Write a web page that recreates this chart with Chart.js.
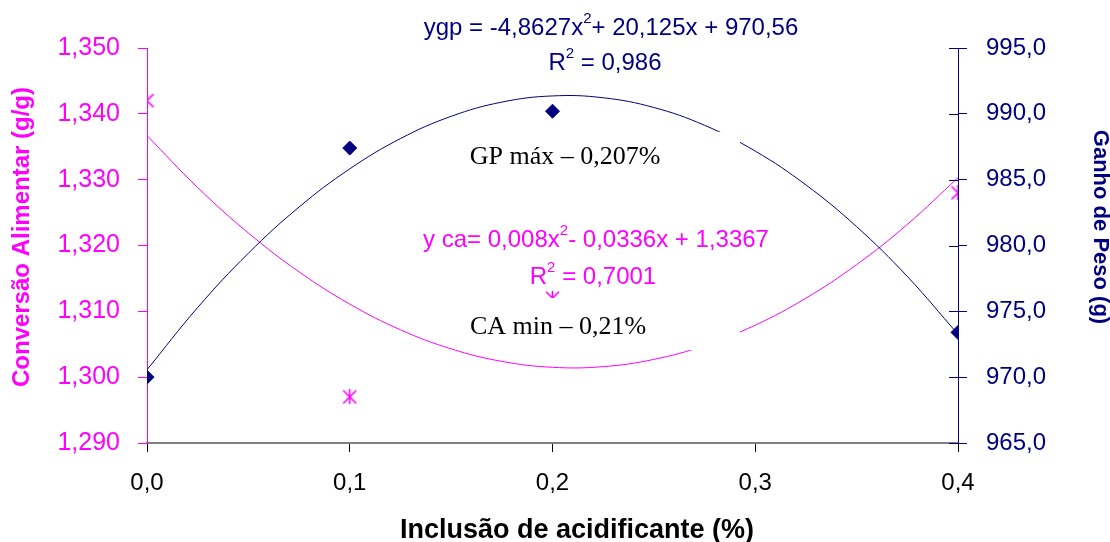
<!DOCTYPE html>
<html>
<head>
<meta charset="utf-8">
<script src="https://cdn.jsdelivr.net/npm/chart.js@4/dist/chart.umd.min.js"></script>
<style>
  html, body { margin: 0; padding: 0; background: #fff; }
  #wrap { width: 1110px; height: 542px; }
</style>
</head>
<body>
<div id="wrap"><canvas id="chart" width="1110" height="542"></canvas></div>
<script>
// observed points
const doses = [0, 0.1, 0.2, 0.4];
const caValues = [1.342, 1.297, 1.312, 1.328];
const gpValues = [970.0, 987.4, 990.2, 973.4];

// trend curves
const trendX = [0, 0.025, 0.05, 0.075, 0.1, 0.125, 0.15, 0.175, 0.2, 0.225, 0.25, 0.275, 0.3, 0.325, 0.35, 0.375, 0.4];
const caTrend = [1.3367, 1.3288, 1.3219, 1.3160, 1.3111, 1.3072, 1.3043, 1.3024, 1.3015, 1.3016, 1.3027, 1.3048, 1.3079, 1.3120, 1.3171, 1.3232, 1.3303];
const gpTrend = [970.56, 975.29, 979.41, 982.92, 985.82, 988.12, 989.81, 990.89, 991.36, 991.22, 990.48, 989.13, 987.17, 984.60, 981.43, 977.65, 973.26];

const MAGENTA = '#ff00ff';
const NAVY = '#000080';
const SANS = '"Liberation Sans", Arial, sans-serif';
const SERIF = '"Liberation Serif", "Times New Roman", serif';

function zip(xs, ys) { return xs.map((x, i) => ({ x: x, y: ys[i] })); }

// excel style asterisk marker
function asterisk(size, color) {
    const c = document.createElement('canvas');
    c.width = size; c.height = size;
    const g = c.getContext('2d');
    g.strokeStyle = color;
    g.lineWidth = 1.6;
    const m = size / 2;
    g.beginPath();
    g.moveTo(1, 1); g.lineTo(size - 1, size - 1);
    g.moveTo(size - 1, 1); g.lineTo(1, size - 1);
    g.moveTo(m, 0); g.lineTo(m, size);
    g.stroke();
    return c;
}

// text pieces: [text, isSuperscript]
function drawPieces(ctx, pieces, cx, cy, size, color) {
    ctx.save();
    ctx.fillStyle = color;
    ctx.textBaseline = 'middle';
    ctx.textAlign = 'left';
    let total = 0;
    pieces.forEach(p => {
        ctx.font = (p[1] ? Math.round(size * 0.62) : size) + 'px ' + SANS;
        total += ctx.measureText(p[0]).width;
    });
    let x = cx - total / 2;
    pieces.forEach(p => {
        const s = p[1] ? Math.round(size * 0.62) : size;
        ctx.font = s + 'px ' + SANS;
        ctx.fillText(p[0], x, p[1] ? cy - size * 0.38 : cy);
        x += ctx.measureText(p[0]).width;
    });
    ctx.restore();
}

function rotatedText(ctx, text, x, y, angle, font, color) {
    ctx.save();
    ctx.translate(x, y);
    ctx.rotate(angle);
    ctx.font = font;
    ctx.fillStyle = color;
    ctx.textAlign = 'center';
    ctx.textBaseline = 'middle';
    ctx.fillText(text, 0, 0);
    ctx.restore();
}

function whiteBox(ctx, x, y, w, h) {
    ctx.save();
    ctx.fillStyle = '#fff';
    ctx.fillRect(x, y, w, h);
    ctx.restore();
}

const labelsPlugin = {
    id: 'labels',
    afterDraw(chart) {
        const ctx = chart.ctx;
        const area = chart.chartArea;
        const y2 = chart.scales.y2;

        // inner half of the crossing ticks on the right axis
        ctx.save();
        ctx.strokeStyle = NAVY;
        ctx.lineWidth = 1;
        y2.ticks.forEach(t => {
            const py = Math.round(y2.getPixelForValue(t.value)) + 0.5;
            ctx.beginPath();
            ctx.moveTo(area.right - 9, py);
            ctx.lineTo(area.right, py);
            ctx.stroke();
        });
        ctx.restore();

        // axis titles
        rotatedText(ctx, 'Conversão Alimentar (g/g)', 22, 237, -Math.PI / 2, 'bold 24px ' + SANS, MAGENTA);
        rotatedText(ctx, 'Ganho de Peso (g)', 1100, 227, Math.PI / 2, 'bold 22px ' + SANS, NAVY);
        ctx.save();
        ctx.font = 'bold 27px ' + SANS;
        ctx.fillStyle = '#000';
        ctx.textAlign = 'center';
        ctx.textBaseline = 'alphabetic';
        ctx.fillText('Inclusão de acidificante (%)', 577, 538);
        ctx.restore();

        drawPieces(ctx, [['ygp = -4,8627x', false], ['2', true], ['+ 20,125x + 970,56', false]], 611, 28, 24, NAVY);
        drawPieces(ctx, [['R', false], ['2', true], [' = 0,986', false]], 605, 63, 24, NAVY);

        // text boxes sit on top of the curves, like in the spreadsheet
        whiteBox(ctx, 455, 132, 285, 50);
        whiteBox(ctx, 455, 298, 285, 52);
        whiteBox(ctx, 425, 224, 345, 66);

        drawPieces(ctx, [['y ca= 0,008x', false], ['2', true], ['- 0,0336x + 1,3367', false]], 596, 240, 24, MAGENTA);
        drawPieces(ctx, [['R', false], ['2', true], [' = 0,7001', false]], 593, 277, 24, MAGENTA);

        ctx.save();
        ctx.fillStyle = '#000';
        ctx.font = '26px ' + SERIF;
        ctx.textAlign = 'center';
        ctx.textBaseline = 'middle';
        ctx.fillText('GP máx – 0,207%', 565, 157);
        ctx.fillText('CA min – 0,21%', 558, 327);
        ctx.restore();
    }
};

new Chart(document.getElementById('chart'), {
    type: 'scatter',
    data: {
        datasets: [
            {
                label: 'GP',
                data: zip(doses, gpValues),
                yAxisID: 'y2',
                pointStyle: 'rectRot',
                pointRadius: 7,
                pointHoverRadius: 7,
                backgroundColor: NAVY,
                borderColor: NAVY,
                borderWidth: 1
            },
            {
                label: 'CA',
                data: zip(doses, caValues),
                yAxisID: 'y',
                pointStyle: asterisk(15, MAGENTA),
                pointRadius: 7,
                borderColor: MAGENTA
            },
            {
                label: 'GP trend',
                data: zip(trendX, gpTrend),
                yAxisID: 'y2',
                showLine: true,
                pointRadius: 0,
                borderColor: NAVY,
                borderWidth: 1,
                tension: 0.4
            },
            {
                label: 'CA trend',
                data: zip(trendX, caTrend),
                yAxisID: 'y',
                showLine: true,
                pointRadius: 0,
                borderColor: MAGENTA,
                borderWidth: 1,
                tension: 0.4
            }
        ]
    },
    options: {
        responsive: false,
        animation: false,
        layout: { padding: { top: 48, left: 0, right: 0, bottom: 0 } },
        plugins: { legend: { display: false }, tooltip: { enabled: false } },
        scales: {
            x: {
                type: 'linear',
                min: 0,
                max: 0.4,
                afterFit: s => { s.height = 99; },
                ticks: {
                    stepSize: 0.1,
                    color: '#000',
                    font: { family: SANS, size: 24 },
                    padding: 17,
                    callback: v => v.toFixed(1).replace('.', ',')
                },
                grid: { drawOnChartArea: false, tickLength: 9, color: '#000' },
                border: { color: '#808080', width: 2 }
            },
            y: {
                position: 'left',
                min: 1.29,
                max: 1.35,
                afterFit: s => { s.width = 147; },
                ticks: {
                    stepSize: 0.01,
                    color: MAGENTA,
                    font: { family: SANS, size: 25 },
                    padding: 18,
                    callback: v => v.toFixed(3).replace('.', ',')
                },
                grid: { drawOnChartArea: false, tickLength: 9, color: MAGENTA },
                border: { color: MAGENTA, width: 1 }
            },
            y2: {
                position: 'right',
                min: 965,
                max: 995,
                afterFit: s => { s.width = 152; },
                ticks: {
                    stepSize: 5,
                    color: NAVY,
                    font: { family: SANS, size: 24 },
                    padding: 19,
                    callback: v => v.toFixed(1).replace('.', ',')
                },
                grid: { drawOnChartArea: false, tickLength: 9, color: NAVY },
                border: { color: NAVY, width: 1 }
            }
        }
    },
    plugins: [labelsPlugin]
});
</script>
</body>
</html>
